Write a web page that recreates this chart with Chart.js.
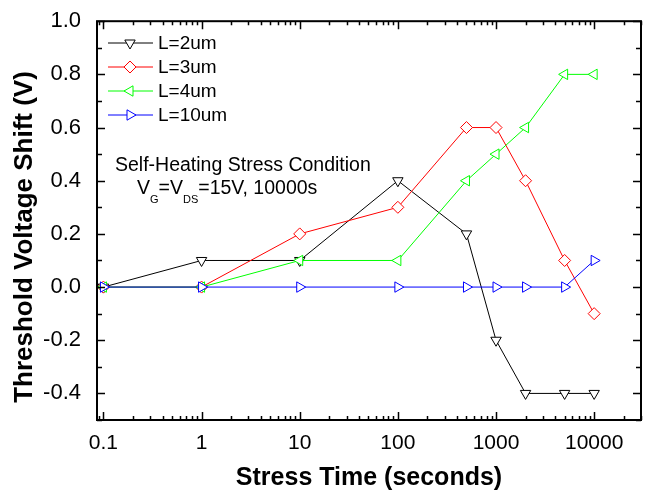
<!DOCTYPE html>
<html>
<head>
<meta charset="utf-8">
<script src="https://cdn.jsdelivr.net/npm/chart.js@4"></script>
<style>
  body { margin: 0; background: #fff; }
  canvas { display: block; }
</style>
</head>
<body>
<canvas id="chart" width="648" height="495"></canvas>
<script>
const stressTimes = [0.1, 1, 10, 100, 500, 1000, 2000, 5000, 10000];
const shiftL2 = [0, 0.1, 0.1, 0.4, 0.2, -0.2, -0.4, -0.4, -0.4];
const shiftL3 = [0, 0, 0.2, 0.3, 0.6, 0.6, 0.4, 0.1, -0.1];
const shiftL4 = [0, 0, 0.1, 0.1, 0.4, 0.5, 0.6, 0.8, 0.8];
const shiftL10 = [0, 0, 0, 0, 0, 0, 0, 0, 0.1];
const seriesNames = ['L=2um', 'L=3um', 'L=4um', 'L=10um'];
const xTickLabels = [0.1, 1, 10, 100, 1000, 10000];
const yTickLabels = [-0.4, -0.2, 0.0, 0.2, 0.4, 0.6, 0.8, 1.0];

const FONT = '"Liberation Sans", Arial, sans-serif';
Chart.defaults.font.family = FONT;
Chart.defaults.color = '#000';

const toPoints = vals => stressTimes.map((t, i) => ({ x: t, y: vals[i] }));

const makeSet = (label, vals, color, style, rotation, order) => ({
  label,
  data: toPoints(vals),
  borderColor: color,
  borderWidth: 1,
  pointStyle: style,
  pointRotation: rotation,
  pointRadius: 6,
  pointBorderWidth: 1,
  pointBorderColor: color,
  pointBackgroundColor: '#fff',
  tension: 0,
  order
});

const datasets = [
  makeSet(seriesNames[0], shiftL2, '#000000', 'triangle', 180, 3),
  makeSet(seriesNames[1], shiftL3, '#ff0000', 'rectRot', 0, 2),
  makeSet(seriesNames[2], shiftL4, '#00ff00', 'triangle', 270, 1),
  makeSet(seriesNames[3], shiftL10, '#0000ff', 'triangle', 90, 0)
];

// ticks inside the frame, frame, titles, legend and note
const decorations = {
  id: 'decorations',
  afterDraw(chart) {
    const { ctx, chartArea: a, scales: { x, y } } = chart;
    ctx.save();
    ctx.strokeStyle = '#000';
    ctx.lineWidth = 1.5;
    ctx.beginPath();
    for (let e = -2; e <= 4; e++) {
      for (let m = 1; m <= 9; m++) {
        const v = m * Math.pow(10, e);
        if (v < x.min || v > x.max) continue;
        const px = Math.round(x.getPixelForValue(v)) + 0.5;
        const len = m === 1 ? 8 : 4;
        ctx.moveTo(px, a.bottom); ctx.lineTo(px, a.bottom - len);
        ctx.moveTo(px, a.top); ctx.lineTo(px, a.top + len);
      }
    }
    for (let k = -5; k <= 10; k++) {
      const py = Math.round(y.getPixelForValue(k / 10)) + 0.5;
      const len = k % 2 === 0 ? 8 : 5;
      ctx.moveTo(a.left, py); ctx.lineTo(a.left + len, py);
      ctx.moveTo(a.right, py); ctx.lineTo(a.right - len, py);
    }
    ctx.stroke();

    ctx.lineWidth = 2;
    ctx.strokeRect(a.left, a.top, a.right - a.left, a.bottom - a.top);

    // axis titles
    ctx.fillStyle = '#000';
    ctx.textAlign = 'center';
    ctx.textBaseline = 'middle';
    ctx.font = 'bold 25px ' + FONT;
    ctx.fillText('Stress Time (seconds)', 369, 478);
    ctx.save();
    ctx.translate(25, 237);
    ctx.rotate(-Math.PI / 2);
    ctx.font = 'bold 26px ' + FONT;
    ctx.fillText('Threshold Voltage Shift (V)', 0, 0);
    ctx.restore();

    // legend
    ctx.textAlign = 'left';
    ctx.font = '19px ' + FONT;
    chart.data.datasets.forEach((ds, i) => {
      const ly = 43 + 24 * i;
      ctx.strokeStyle = ds.borderColor;
      ctx.lineWidth = 1;
      ctx.beginPath();
      ctx.moveTo(108, ly); ctx.lineTo(153, ly);
      ctx.stroke();
      ctx.fillStyle = '#fff';
      Chart.helpers.drawPoint(ctx, {
        pointStyle: ds.pointStyle, rotation: ds.pointRotation, radius: 6, borderWidth: 1
      }, 130, ly);
      ctx.fillStyle = '#000';
      ctx.fillText(ds.label, 158, ly + 1);
    });

    // note
    ctx.textBaseline = 'alphabetic';
    ctx.font = '19.5px ' + FONT;
    ctx.fillText('Self-Heating Stress Condition', 115, 171);
    const parts = [['V', 0], ['G', 1], ['=V', 0], ['DS', 1], ['=15V, 10000s', 0]];
    let tx = 137;
    parts.forEach(([t, sub]) => {
      ctx.font = (sub ? '11px ' : '19.5px ') + FONT;
      ctx.fillText(t, tx, sub ? 203 : 194);
      tx += ctx.measureText(t).width;
    });
    ctx.restore();
  }
};

new Chart(document.getElementById('chart'), {
  type: 'line',
  data: { datasets },
  options: {
    responsive: false,
    animation: false,
    layout: { padding: { left: 0, top: 17, right: 7, bottom: 0 } },
    plugins: { legend: { display: false }, tooltip: { enabled: false } },
    scales: {
      x: {
        type: 'logarithmic',
        min: 0.086,
        max: 30000,
        grid: { display: false },
        border: { display: false },
        afterBuildTicks: scale => { scale.ticks = xTickLabels.map(v => ({ value: v })); },
        afterFit: scale => { scale.height = 75; },
        ticks: {
          autoSkip: false,
          maxRotation: 0,
          padding: 3,
          font: { size: 21 },
          callback: v => String(v)
        }
      },
      y: {
        min: -0.5,
        max: 1.0,
        grid: { display: false },
        border: { display: false },
        afterBuildTicks: scale => { scale.ticks = yTickLabels.map(v => ({ value: v })); },
        afterFit: scale => { scale.width = 97; },
        ticks: {
          autoSkip: false,
          padding: 8,
          font: { size: 22 },
          callback: v => v.toFixed(1)
        }
      }
    }
  },
  plugins: [decorations]
});
</script>
</body>
</html>
